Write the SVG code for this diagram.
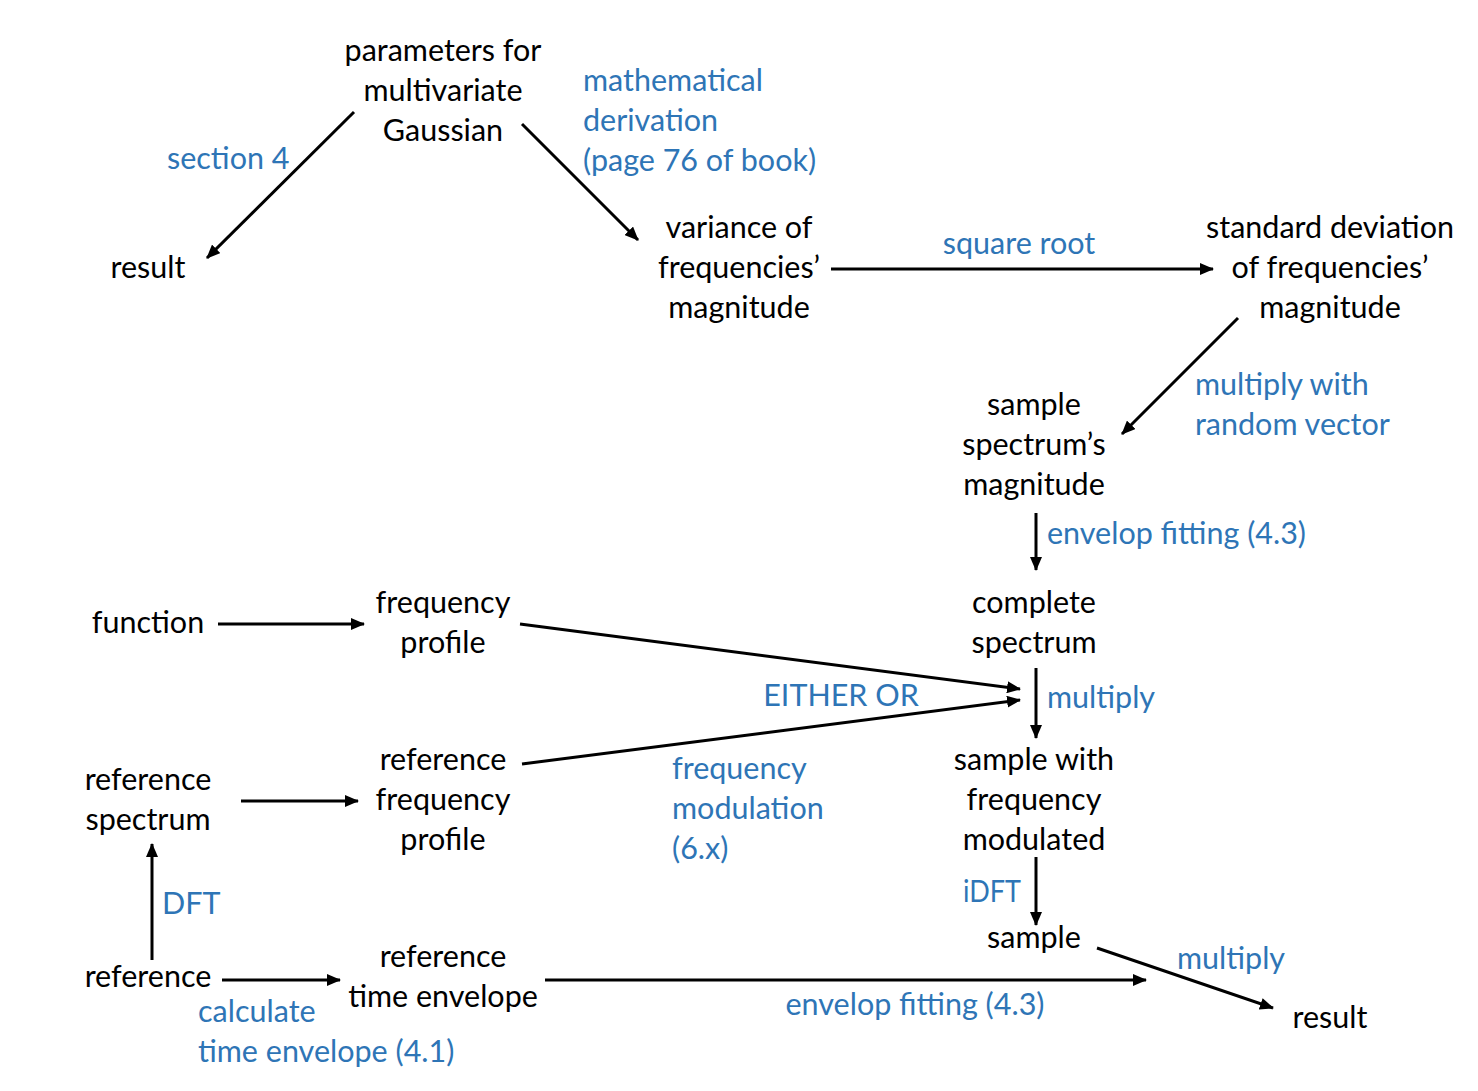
<svg xmlns="http://www.w3.org/2000/svg" width="1478" height="1091" viewBox="0 0 1478 1091">
<defs>
<marker id="ah" markerUnits="userSpaceOnUse" markerWidth="14" markerHeight="12" refX="13" refY="6" orient="auto">
<path d="M0,0 L14,6 L0,12 z" fill="#000"/>
</marker>
<style>
text{font-family:"Lato","Liberation Sans",sans-serif;font-size:30.5px}
.n{fill:#000;text-anchor:middle}
.b{fill:#2E75B6}
.bc{fill:#2E75B6;text-anchor:middle}
.c line{stroke:#000;stroke-width:3;marker-end:url(#ah)}
</style>
</defs>
<rect width="1478" height="1091" fill="#fff"/>
<g transform="translate(0,1.5)">
<g id="params"><text class="n" x="443" y="59">parameters for</text><text class="n" x="443" y="99">multivariate</text><text class="n" x="443" y="139">Gaussian</text></g>
<g id="result1"><text class="n" x="148" y="276">result</text></g>
<g id="variance"><text class="n" x="739" y="236">variance of</text><text class="n" x="739" y="276">frequencies’</text><text class="n" x="739" y="316">magnitude</text></g>
<g id="stddev"><text class="n" x="1330" y="236">standard deviation</text><text class="n" x="1330" y="276">of frequencies’</text><text class="n" x="1330" y="316">magnitude</text></g>
<g id="samplemag"><text class="n" x="1034" y="413">sample</text><text class="n" x="1034" y="453">spectrum’s</text><text class="n" x="1034" y="493">magnitude</text></g>
<g id="complete"><text class="n" x="1034" y="611">complete</text><text class="n" x="1034" y="651">spectrum</text></g>
<g id="function"><text class="n" x="148" y="631">function</text></g>
<g id="freqprofile"><text class="n" x="443" y="611">frequency</text><text class="n" x="443" y="651">profile</text></g>
<g id="refspectrum"><text class="n" x="148" y="788">reference</text><text class="n" x="148" y="828">spectrum</text></g>
<g id="reffreqprofile"><text class="n" x="443" y="768">reference</text><text class="n" x="443" y="808">frequency</text><text class="n" x="443" y="848">profile</text></g>
<g id="samplemod"><text class="n" x="1034" y="768">sample with</text><text class="n" x="1034" y="808">frequency</text><text class="n" x="1034" y="848">modulated</text></g>
<g id="sample"><text class="n" x="1034" y="946">sample</text></g>
<g id="reference"><text class="n" x="148" y="985">reference</text></g>
<g id="reftimeenv"><text class="n" x="443" y="965">reference</text><text class="n" x="443" y="1005">time envelope</text></g>
<g id="result2"><text class="n" x="1330" y="1026">result</text></g>
<g id="labels">
<text class="b" x="583" y="89">mathematical</text><text class="b" x="583" y="129">derivation</text><text class="b" x="583" y="169">(page 76 of book)</text>
<text class="b" x="167" y="167">section 4</text>
<text class="bc" x="1019" y="252">square root</text>
<text class="b" x="1195" y="393">multiply with</text><text class="b" x="1195" y="433">random vector</text>
<text class="b" x="1047" y="542">envelop fitting (4.3)</text>
<text class="bc" x="841" y="704">EITHER OR</text>
<text class="b" x="1047" y="706">multiply</text>
<text class="b" x="672" y="777">frequency</text><text class="b" x="672" y="817">modulation</text><text class="b" x="672" y="857">(6.x)</text>
<text class="b" x="963" y="900" textLength="58" lengthAdjust="spacingAndGlyphs">iDFT</text>
<text class="b" x="162" y="912">DFT</text>
<text class="b" x="1177" y="967">multiply</text>
<text class="bc" x="915" y="1013">envelop fitting (4.3)</text>
<text class="b" x="198" y="1020">calculate</text><text class="b" x="198" y="1060">time envelope (4.1)</text>
</g>
</g>
<g id="connectors" class="c">
<line x1="354" y1="112" x2="207" y2="258"/>
<line x1="522" y1="124" x2="638" y2="240"/>
<line x1="831" y1="269" x2="1213" y2="269"/>
<line x1="1238" y1="318" x2="1122" y2="434"/>
<line x1="1036" y1="513" x2="1036" y2="570"/>
<line x1="218" y1="624" x2="364" y2="624"/>
<line x1="520" y1="624" x2="1020" y2="689"/>
<line x1="522" y1="764" x2="1020" y2="700"/>
<line x1="1036" y1="668" x2="1036" y2="738"/>
<line x1="241" y1="801" x2="358" y2="801"/>
<line x1="152" y1="960" x2="152" y2="844"/>
<line x1="1036" y1="857" x2="1036" y2="925"/>
<line x1="222" y1="980" x2="340" y2="980"/>
<line x1="545" y1="980" x2="1146" y2="980"/>
<line x1="1097" y1="948" x2="1273" y2="1008"/>
</g>
</svg>
